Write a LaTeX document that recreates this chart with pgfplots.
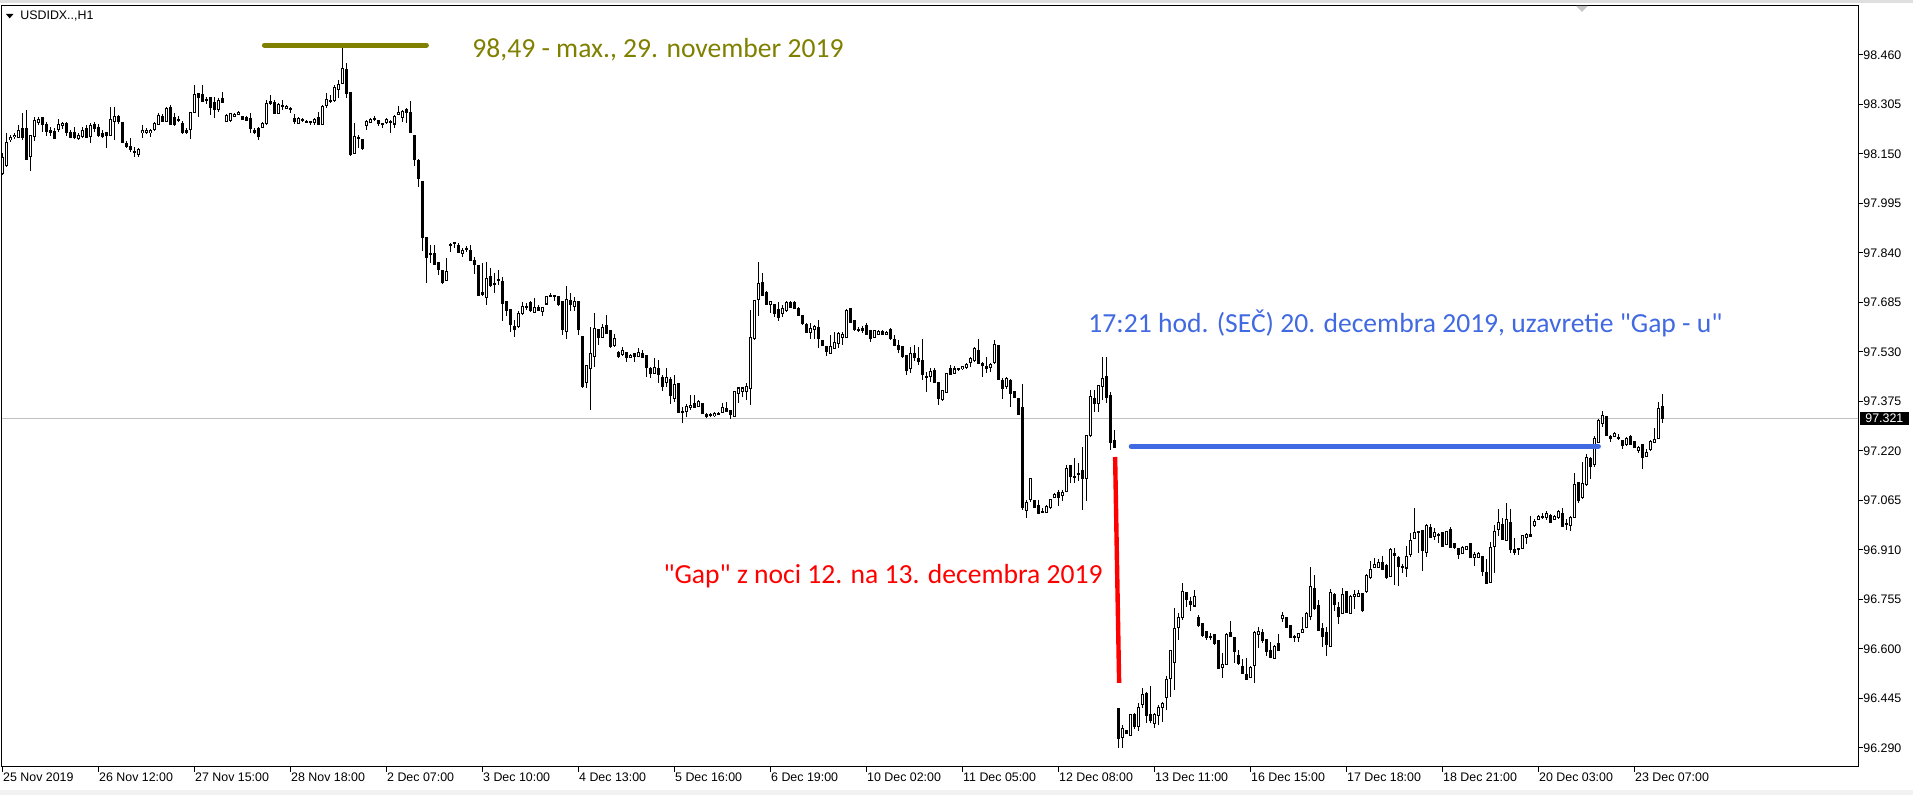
\documentclass[border=0pt]{standalone}
\usepackage{fontspec}
\setmainfont{Liberation Sans}
\newfontfamily\annfont{Carlito}
\usepackage{pgfplots}
\usepackage{pgfplotstable}
\pgfplotsset{compat=1.18}
\definecolor{mtolive}{RGB}{128,128,0}
\definecolor{mtblue}{RGB}{65,105,225}
\definecolor{mtgrid}{RGB}{192,192,192}

% USDIDX H1 candles: bar index, open, high, low, close
\pgfplotstableread{
i o h l c
0 98.090 98.153 98.084 98.141
1 98.115 98.216 98.109 98.187
2 98.194 98.209 98.187 98.203
3 98.203 98.216 98.197 98.209
4 98.203 98.241 98.200 98.225
5 98.231 98.281 98.194 98.203
6 98.231 98.288 98.131 98.134
7 98.141 98.209 98.097 98.206
8 98.206 98.266 98.191 98.256
9 98.247 98.266 98.241 98.259
10 98.266 98.266 98.219 98.244
11 98.241 98.250 98.209 98.219
12 98.225 98.234 98.206 98.216
13 98.219 98.231 98.197 98.200
14 98.228 98.262 98.219 98.244
15 98.238 98.253 98.231 98.247
16 98.244 98.250 98.209 98.216
17 98.216 98.225 98.200 98.203
18 98.216 98.234 98.197 98.203
19 98.200 98.216 98.194 98.209
20 98.206 98.234 98.200 98.225
21 98.231 98.241 98.200 98.203
22 98.206 98.247 98.184 98.241
23 98.244 98.250 98.219 98.231
24 98.234 98.244 98.203 98.206
25 98.216 98.225 98.200 98.206
26 98.216 98.216 98.169 98.209
27 98.209 98.297 98.206 98.259
28 98.253 98.297 98.194 98.269
29 98.266 98.272 98.244 98.253
30 98.250 98.250 98.184 98.187
31 98.184 98.191 98.169 98.175
32 98.172 98.200 98.156 98.163
33 98.159 98.172 98.141 98.156
34 98.150 98.169 98.141 98.166
35 98.216 98.241 98.200 98.225
36 98.219 98.231 98.213 98.225
37 98.216 98.228 98.203 98.225
38 98.228 98.250 98.222 98.247
39 98.244 98.278 98.241 98.272
40 98.269 98.275 98.250 98.253
41 98.253 98.297 98.253 98.294
42 98.297 98.303 98.241 98.244
43 98.266 98.278 98.238 98.244
44 98.259 98.269 98.250 98.253
45 98.244 98.253 98.213 98.216
46 98.225 98.231 98.213 98.216
47 98.225 98.284 98.200 98.281
48 98.281 98.366 98.278 98.335
49 98.341 98.341 98.266 98.328
50 98.338 98.366 98.313 98.316
51 98.322 98.328 98.307 98.319
52 98.325 98.328 98.272 98.294
53 98.310 98.328 98.262 98.288
54 98.288 98.325 98.281 98.319
55 98.325 98.344 98.310 98.310
56 98.253 98.275 98.250 98.272
57 98.253 98.278 98.250 98.275
58 98.269 98.278 98.266 98.275
59 98.275 98.284 98.272 98.281
60 98.266 98.269 98.256 98.259
61 98.266 98.269 98.253 98.256
62 98.262 98.278 98.216 98.231
63 98.225 98.231 98.213 98.216
64 98.231 98.234 98.194 98.206
65 98.234 98.250 98.231 98.247
66 98.247 98.319 98.241 98.310
67 98.316 98.335 98.303 98.310
68 98.313 98.319 98.275 98.278
69 98.278 98.310 98.275 98.307
70 98.300 98.319 98.288 98.303
71 98.294 98.303 98.291 98.300
72 98.294 98.297 98.278 98.291
73 98.262 98.275 98.244 98.253
74 98.247 98.266 98.244 98.262
75 98.259 98.262 98.250 98.253
76 98.253 98.256 98.250 98.250
77 98.253 98.253 98.241 98.250
78 98.250 98.262 98.241 98.259
79 98.266 98.281 98.241 98.244
80 98.241 98.303 98.241 98.300
81 98.300 98.341 98.294 98.319
82 98.319 98.335 98.310 98.316
83 98.319 98.366 98.313 98.360
84 98.353 98.382 98.325 98.369
85 98.372 98.482 98.372 98.419
86 98.416 98.435 98.325 98.341
87 98.341 98.344 98.144 98.147
88 98.153 98.247 98.153 98.206
89 98.200 98.209 98.169 98.203
90 98.194 98.194 98.163 98.166
91 98.238 98.256 98.225 98.253
92 98.250 98.262 98.247 98.259
93 98.259 98.269 98.253 98.262
94 98.256 98.256 98.238 98.244
95 98.244 98.247 98.231 98.241
96 98.247 98.262 98.244 98.259
97 98.250 98.259 98.216 98.253
98 98.244 98.272 98.231 98.269
99 98.275 98.300 98.272 98.281
100 98.266 98.288 98.250 98.284
101 98.291 98.294 98.247 98.281
102 98.281 98.316 98.216 98.216
103 98.209 98.209 98.113 98.134
104 98.131 98.134 98.047 98.075
105 98.065 98.065 97.846 97.890
106 97.890 97.890 97.746 97.828
107 97.840 97.865 97.809 97.837
108 97.837 97.865 97.803 97.803
109 97.812 97.812 97.771 97.790
110 97.784 97.787 97.743 97.746
111 97.756 97.825 97.756 97.784
112 97.868 97.872 97.843 97.865
113 97.872 97.875 97.856 97.868
114 97.865 97.872 97.840 97.843
115 97.840 97.856 97.828 97.849
116 97.856 97.862 97.843 97.853
117 97.849 97.865 97.818 97.818
118 97.815 97.828 97.775 97.803
119 97.803 97.803 97.709 97.709
120 97.718 97.809 97.706 97.709
121 97.703 97.812 97.678 97.762
122 97.765 97.793 97.734 97.737
123 97.746 97.778 97.715 97.743
124 97.756 97.787 97.740 97.753
125 97.753 97.765 97.627 97.684
126 97.690 97.690 97.643 97.662
127 97.662 97.662 97.593 97.615
128 97.612 97.630 97.577 97.602
129 97.609 97.659 97.605 97.652
130 97.652 97.687 97.646 97.674
131 97.671 97.684 97.662 97.674
132 97.687 97.690 97.655 97.662
133 97.652 97.699 97.652 97.668
134 97.671 97.678 97.659 97.662
135 97.659 97.671 97.643 97.671
136 97.681 97.706 97.678 97.703
137 97.703 97.715 97.703 97.706
138 97.706 97.706 97.690 97.703
139 97.703 97.706 97.674 97.681
140 97.687 97.687 97.583 97.599
141 97.593 97.737 97.571 97.696
142 97.690 97.715 97.659 97.678
143 97.674 97.703 97.659 97.690
144 97.687 97.687 97.583 97.599
145 97.580 97.580 97.418 97.424
146 97.433 97.486 97.418 97.486
147 97.480 97.608 97.348 97.527
148 97.518 97.652 97.483 97.605
149 97.602 97.602 97.552 97.577
150 97.577 97.618 97.577 97.608
151 97.615 97.646 97.587 97.590
152 97.596 97.596 97.543 97.546
153 97.552 97.587 97.546 97.574
154 97.530 97.533 97.512 97.518
155 97.521 97.546 97.518 97.536
156 97.530 97.530 97.499 97.512
157 97.515 97.524 97.512 97.521
158 97.524 97.527 97.499 97.515
159 97.518 97.543 97.515 97.530
160 97.527 97.536 97.512 97.515
161 97.521 97.521 97.452 97.483
162 97.477 97.483 97.449 97.461
163 97.464 97.511 97.464 97.483
164 97.480 97.505 97.433 97.461
165 97.452 97.458 97.408 97.424
166 97.436 97.480 97.421 97.452
167 97.446 97.452 97.367 97.396
168 97.386 97.458 97.374 97.427
169 97.433 97.433 97.339 97.342
170 97.342 97.358 97.308 97.345
171 97.342 97.367 97.326 97.358
172 97.358 97.396 97.348 97.364
173 97.370 97.396 97.355 97.358
174 97.361 97.380 97.358 97.377
175 97.370 97.370 97.336 97.339
176 97.336 97.339 97.323 97.327
177 97.333 97.339 97.327 97.330
178 97.330 97.342 97.327 97.339
179 97.339 97.342 97.333 97.336
180 97.342 97.370 97.342 97.355
181 97.352 97.374 97.342 97.345
182 97.345 97.345 97.320 97.333
183 97.330 97.408 97.327 97.408
184 97.402 97.421 97.370 97.418
185 97.408 97.421 97.389 97.418
186 97.408 97.433 97.380 97.421
187 97.418 97.662 97.364 97.577
188 97.571 97.693 97.568 97.690
189 97.696 97.812 97.643 97.746
190 97.749 97.778 97.709 97.709
191 97.715 97.721 97.678 97.678
192 97.678 97.690 97.652 97.687
193 97.681 97.681 97.640 97.652
194 97.662 97.687 97.627 97.637
195 97.652 97.678 97.640 97.665
196 97.662 97.690 97.655 97.687
197 97.687 97.690 97.668 97.671
198 97.687 97.690 97.665 97.668
199 97.665 97.671 97.646 97.646
200 97.646 97.646 97.615 97.621
201 97.618 97.621 97.590 97.593
202 97.590 97.621 97.571 97.605
203 97.602 97.615 97.571 97.612
204 97.605 97.630 97.543 97.571
205 97.568 97.568 97.549 97.552
206 97.546 97.546 97.518 97.533
207 97.527 97.583 97.527 97.546
208 97.543 97.593 97.543 97.561
209 97.555 97.593 97.543 97.587
210 97.577 97.593 97.552 97.587
211 97.577 97.665 97.577 97.662
212 97.665 97.665 97.621 97.624
213 97.630 97.630 97.596 97.602
214 97.602 97.608 97.593 97.599
215 97.605 97.612 97.590 97.596
216 97.615 97.621 97.583 97.587
217 97.596 97.596 97.561 97.571
218 97.577 97.599 97.574 97.596
219 97.587 97.599 97.583 97.596
220 97.596 97.599 97.583 97.587
221 97.587 97.596 97.583 97.593
222 97.602 97.605 97.568 97.571
223 97.571 97.583 97.549 97.552
224 97.552 97.568 97.527 97.539
225 97.546 97.549 97.512 97.515
226 97.521 97.521 97.458 97.474
227 97.480 97.546 97.467 97.527
228 97.527 97.552 97.502 97.515
229 97.511 97.546 97.489 97.502
230 97.502 97.571 97.442 97.458
231 97.452 97.467 97.405 97.449
232 97.452 97.480 97.436 97.467
233 97.471 97.480 97.433 97.433
234 97.433 97.433 97.364 97.383
235 97.380 97.411 97.377 97.411
236 97.405 97.464 97.402 97.464
237 97.480 97.489 97.458 97.461
238 97.464 97.486 97.461 97.477
239 97.477 97.480 97.471 97.474
240 97.477 97.486 97.474 97.483
241 97.483 97.496 97.477 97.493
242 97.499 97.515 97.483 97.511
243 97.505 97.546 97.499 97.543
244 97.536 97.571 97.493 97.493
245 97.496 97.499 97.452 97.489
246 97.486 97.514 97.464 97.480
247 97.483 97.496 97.467 97.493
248 97.496 97.568 97.493 97.555
249 97.552 97.552 97.442 97.446
250 97.442 97.449 97.383 97.418
251 97.421 97.452 97.414 97.446
252 97.442 97.446 97.358 97.402
253 97.408 97.408 97.386 97.389
254 97.386 97.386 97.333 97.336
255 97.355 97.430 97.035 97.042
256 97.032 97.067 97.010 97.060
257 97.070 97.136 97.060 97.136
258 97.067 97.067 97.042 97.045
259 97.051 97.067 97.023 97.026
260 97.032 97.042 97.026 97.029
261 97.029 97.051 97.026 97.048
262 97.042 97.070 97.039 97.067
263 97.076 97.089 97.073 97.085
264 97.092 97.098 97.048 97.076
265 97.082 97.098 97.064 97.092
266 97.095 97.176 97.092 97.167
267 97.176 97.176 97.120 97.139
268 97.139 97.198 97.120 97.136
269 97.148 97.183 97.126 97.151
270 97.158 97.233 97.035 97.133
271 97.133 97.270 97.064 97.267
272 97.270 97.411 97.264 97.392
273 97.386 97.411 97.342 97.370
274 97.370 97.427 97.342 97.424
275 97.421 97.517 97.380 97.446
276 97.452 97.514 97.370 97.389
277 97.396 97.405 97.223 97.248
278 97.254 97.286 97.232 97.232
279 96.415 96.415 96.290 96.321
280 96.324 96.362 96.290 96.352
281 96.346 96.346 96.334 96.337
282 96.330 96.396 96.327 96.396
283 96.396 96.399 96.349 96.356
284 96.359 96.431 96.343 96.418
285 96.428 96.478 96.415 96.459
286 96.462 96.465 96.368 96.393
287 96.396 96.484 96.371 96.377
288 96.368 96.399 96.352 96.396
289 96.393 96.424 96.362 96.418
290 96.418 96.434 96.371 96.431
291 96.450 96.516 96.409 96.506
292 96.506 96.597 96.450 96.594
293 96.556 96.729 96.472 96.663
294 96.669 96.713 96.628 96.700
295 96.700 96.807 96.691 96.782
296 96.779 96.779 96.732 96.757
297 96.750 96.763 96.719 96.738
298 96.735 96.785 96.735 96.766
299 96.700 96.706 96.669 96.672
300 96.681 96.681 96.637 96.644
301 96.656 96.656 96.628 96.637
302 96.637 96.650 96.628 96.640
303 96.647 96.647 96.612 96.619
304 96.628 96.628 96.540 96.540
305 96.544 96.587 96.509 96.553
306 96.553 96.650 96.550 96.647
307 96.653 96.687 96.637 96.640
308 96.637 96.640 96.556 96.594
309 96.581 96.597 96.550 96.553
310 96.547 96.569 96.522 96.525
311 96.522 96.572 96.503 96.506
312 96.512 96.547 96.509 96.544
313 96.550 96.656 96.494 96.653
314 96.647 96.669 96.603 96.656
315 96.653 96.662 96.619 96.628
316 96.628 96.628 96.581 96.591
317 96.597 96.622 96.572 96.575
318 96.572 96.612 96.569 96.609
319 96.616 96.647 96.594 96.594
320 96.697 96.716 96.684 96.706
321 96.700 96.700 96.666 96.669
322 96.675 96.675 96.634 96.637
323 96.640 96.644 96.622 96.637
324 96.637 96.650 96.622 96.650
325 96.653 96.703 96.650 96.662
326 96.669 96.716 96.666 96.713
327 96.703 96.857 96.691 96.797
328 96.791 96.832 96.725 96.728
329 96.738 96.753 96.659 96.659
330 96.666 96.681 96.606 96.640
331 96.653 96.669 96.578 96.616
332 96.609 96.788 96.606 96.779
333 96.772 96.775 96.719 96.741
334 96.732 96.747 96.678 96.703
335 96.713 96.791 96.710 96.772
336 96.779 96.779 96.713 96.716
337 96.713 96.769 96.710 96.766
338 96.766 96.785 96.725 96.772
339 96.766 96.785 96.763 96.775
340 96.775 96.775 96.716 96.719
341 96.782 96.835 96.775 96.832
342 96.825 96.875 96.819 96.850
343 96.857 96.885 96.854 96.866
344 96.857 96.882 96.854 96.872
345 96.872 96.891 96.847 96.850
346 96.863 96.866 96.819 96.825
347 96.828 96.916 96.825 96.913
348 96.900 96.916 96.800 96.894
349 96.888 96.891 96.800 96.860
350 96.860 96.869 96.838 96.857
351 96.854 96.922 96.825 96.891
352 96.897 96.963 96.888 96.941
353 96.947 97.041 96.944 96.966
354 96.969 96.969 96.900 96.966
355 96.972 96.972 96.844 96.910
356 96.904 96.991 96.888 96.988
357 96.982 96.991 96.950 96.950
358 96.954 96.979 96.944 96.966
359 96.960 96.963 96.932 96.957
360 96.966 96.966 96.919 96.922
361 96.929 96.969 96.925 96.969
362 96.975 96.982 96.919 96.919
363 96.932 96.932 96.913 96.919
364 96.916 96.916 96.882 96.897
365 96.900 96.922 96.897 96.919
366 96.913 96.925 96.910 96.922
367 96.932 96.932 96.885 96.888
368 96.888 96.904 96.860 96.897
369 96.888 96.904 96.885 96.900
370 96.891 96.891 96.829 96.844
371 96.841 96.882 96.807 96.807
372 96.810 96.935 96.810 96.919
373 96.922 96.991 96.838 96.969
374 96.975 97.038 96.954 96.997
375 96.991 97.013 96.944 96.944
376 96.941 97.057 96.938 97.007
377 96.997 97.038 96.900 96.913
378 96.913 96.947 96.894 96.904
379 96.916 96.916 96.894 96.913
380 96.916 96.957 96.913 96.957
381 96.950 96.963 96.929 96.960
382 96.960 97.016 96.954 96.954
383 96.988 97.007 96.982 97.001
384 97.007 97.019 97.004 97.016
385 97.016 97.026 97.007 97.013
386 97.013 97.032 97.004 97.026
387 97.019 97.023 96.994 96.997
388 97.007 97.019 97.004 97.016
389 97.013 97.038 97.007 97.032
390 97.026 97.042 96.985 96.985
391 96.991 97.007 96.972 96.988
392 96.985 97.016 96.969 97.013
393 97.013 97.151 97.013 97.117
394 97.123 97.123 97.060 97.064
395 97.073 97.186 97.070 97.117
396 97.114 97.211 97.111 97.201
397 97.198 97.201 97.133 97.173
398 97.179 97.267 97.170 97.258
399 97.248 97.320 97.245 97.317
400 97.308 97.345 97.295 97.333
401 97.327 97.327 97.267 97.270
402 97.267 97.270 97.248 97.261
403 97.267 97.280 97.264 97.276
404 97.264 97.273 97.254 97.261
405 97.254 97.254 97.226 97.239
406 97.242 97.264 97.236 97.261
407 97.267 97.270 97.239 97.242
408 97.248 97.251 97.229 97.232
409 97.223 97.236 97.214 97.232
410 97.242 97.242 97.164 97.201
411 97.204 97.226 97.201 97.217
412 97.223 97.254 97.220 97.251
413 97.248 97.292 97.245 97.258
414 97.261 97.374 97.261 97.355
415 97.358 97.399 97.308 97.321
}\candles

\begin{document}
\begin{tikzpicture}[x=1pt,y=1pt]
\path[use as bounding box] (0,0) rectangle (956.5,397.5);
\fill[gray!10] (0,0) rectangle (956.5,2.5);
\fill[gray!25] (0,396.2) rectangle (956.5,397.5);
\begin{axis}[
  at={(1pt,14pt)}, anchor=south west,
  scale only axis, width=928pt, height=380.5pt,
  xmin=-0.2, xmax=463.8, ymin=96.2305, ymax=98.613,
  axis line style={black, line width=0.5pt},
  tick style={black, line width=0.5pt},
  tick align=outside,
  major tick length=2.5pt,
  xtick pos=bottom, ytick pos=right, yticklabel pos=right,
  xtick={0,24,...,408},
  xticklabels={25 Nov 2019, 26 Nov 12:00, 27 Nov 15:00, 28 Nov 18:00, 2 Dec 07:00, 3 Dec 10:00, 4 Dec 13:00, 5 Dec 16:00, 6 Dec 19:00, 10 Dec 02:00, 11 Dec 05:00, 12 Dec 08:00, 13 Dec 11:00, 16 Dec 15:00, 17 Dec 18:00, 18 Dec 21:00, 20 Dec 03:00, 23 Dec 07:00},
  ytick={96.290,96.445,96.600,96.755,96.910,97.065,97.220,97.375,97.530,97.685,97.840,97.995,98.150,98.305,98.460},
  yticklabels={96.290,96.445,96.600,96.755,96.910,97.065,97.220,97.375,97.530,97.685,97.840,97.995,98.150,98.305,98.460},
  ticklabel style={font=\fontsize{6.2}{7}\selectfont, inner sep=0pt},
  xticklabel style={anchor=north west},
  yticklabel style={anchor=west},
]
% current price line
\addplot[mtgrid, line width=0.5pt, forget plot] coordinates {(-1,97.321) (470,97.321)};
% wicks
\addplot[draw=none, mark=none, forget plot,
  error bars/.cd, y dir=both, y explicit, error mark=none,
  error bar style={draw=black, line width=0.5pt}]
  table[x=i, y expr={(\thisrow{h}+\thisrow{l})/2}, y error expr={(\thisrow{h}-\thisrow{l})/2}] {\candles};
% bodies
\addplot[draw=none, mark=none, forget plot,
  error bars/.cd, y dir=both, y explicit, error mark=none,
  error bar style={draw=black, line width=1.5pt}]
  table[x=i, y expr={(\thisrow{o}+\thisrow{c})/2}, y error expr={abs(\thisrow{o}-\thisrow{c})/2+0.0016}] {\candles};
% hollow inside of rising candles
\addplot[draw=none, mark=none, forget plot,
  error bars/.cd, y dir=both, y explicit, error mark=none,
  error bar style={draw=white, line width=0.5pt}]
  table[x=i, y expr={(\thisrow{o}+\thisrow{c})/2}, y error expr={\thisrow{c}>\thisrow{o} ? max((\thisrow{c}-\thisrow{o})/2-0.0016,0) : 0}] {\candles};
% annotations
\addplot[mtolive, line width=2.5pt, line cap=round, forget plot] coordinates {(65.4,98.490) (105.9,98.490)};
\addplot[mtblue, line width=2.5pt, line cap=round, forget plot] coordinates {(282.1,97.234) (398.9,97.234)};
\addplot[red, line width=2.2pt, forget plot] coordinates {(278.08,97.201) (279.08,96.494)};
\end{axis}
% top-left label
\fill[black] (3,390.5) -- (6.7,390.5) -- (4.85,388.3) -- cycle;
\node[anchor=west, inner sep=0pt, font=\fontsize{6.2}{7}\selectfont] at (10,389.3) {USDIDX..,H1};
\fill[gray!45] (788,394.5) -- (794,394.5) -- (791,391.5) -- cycle;
% last price box
\fill[black] (930,185) rectangle (954.5,191.5);
\node[anchor=west, inner sep=0pt, text=white, font=\fontsize{6.2}{7}\selectfont] at (932.5,188.25) {97.321};
% texts
\node[anchor=base west, inner sep=0pt, text=mtolive, font=\annfont\fontsize{13.8}{16}\selectfont] at (236,368.5) {98,49 - max., 29. november 2019};
\node[anchor=base west, inner sep=0pt, text=mtblue, font=\annfont\fontsize{13.8}{16}\selectfont] at (544,231) {17:21 hod. (SEČ) 20. decembra 2019, uzavretie "Gap - u"};
\node[anchor=base east, inner sep=0pt, text=red, font=\annfont\fontsize{13.8}{16}\selectfont] at (551.5,105.5) {"Gap" z noci 12. na 13. decembra 2019};
\end{tikzpicture}
\end{document}
